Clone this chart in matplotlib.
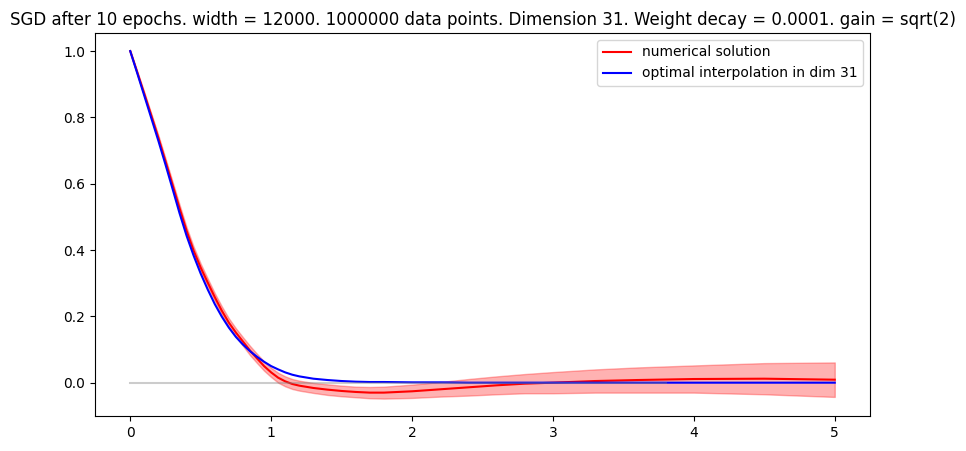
import numpy as np
import matplotlib
matplotlib.use("Agg")
import matplotlib.pyplot as plt

# values
x_vals = [0.0, 0.05, 0.1, 0.15, 0.2, 0.25, 0.3, 0.35, 0.4, 0.45, 0.5, 0.55, 0.6, 0.65,
          0.7, 0.75, 0.8, 0.85, 0.9, 0.95, 1.0, 1.05, 1.1, 1.15, 1.2, 1.3, 1.4, 1.5, 1.6,
          1.7, 1.8, 2.0, 2.2, 2.4, 2.6, 2.8, 3.0, 3.3, 3.6, 4.0, 4.5, 5.0]

optimal = [1.0, 0.933, 0.865, 0.797, 0.729, 0.658, 0.585, 0.511, 0.443, 0.383, 0.329,
           0.281, 0.237, 0.199, 0.166, 0.138, 0.115, 0.095, 0.078, 0.063, 0.05, 0.04,
           0.031, 0.024, 0.019, 0.012, 0.008, 0.005, 0.003, 0.002, 0.002, 0.001, 0.001,
           0.0, 0.0, 0.0, 0.0, 0.0, 0.0, 0.0, 0.0, 0.0]

numerical = [1.0, 0.936, 0.871, 0.805, 0.738, 0.668, 0.597, 0.526, 0.458, 0.398, 0.347,
             0.302, 0.258, 0.217, 0.181, 0.151, 0.124, 0.097, 0.073, 0.05, 0.031, 0.015,
             0.004, -0.004, -0.009, -0.016, -0.021, -0.025, -0.028, -0.03, -0.03, -0.026,
             -0.02, -0.014, -0.008, -0.003, 0.0, 0.005, 0.008, 0.011, 0.012, 0.009]

spread = [0.002, 0.003, 0.005, 0.006, 0.008, 0.009, 0.01, 0.011, 0.011, 0.012, 0.012,
          0.012, 0.012, 0.013, 0.013, 0.013, 0.013, 0.014, 0.014, 0.014, 0.014, 0.015,
          0.015, 0.015, 0.015, 0.015, 0.016, 0.016, 0.016, 0.017, 0.018, 0.02, 0.022,
          0.025, 0.027, 0.029, 0.032, 0.035, 0.038, 0.041, 0.047, 0.052]

zero_line_x = [0.0, 3.8]
zero_line_y = [0.0, 0.0]

title = ("SGD after 10 epochs. width = 12000. 1000000 data points. Dimension 31. "
         "Weight decay = 0.0001. gain = sqrt(2)")

x = np.array(x_vals)
num = np.array(numerical)
sd = np.array(spread)

fig = plt.figure(figsize=(9.66, 4.51), dpi=100)
ax = fig.add_axes([95 / 966, 1 - 416 / 451, 775 / 966, 383 / 451])

ax.fill_between(x, num - sd, num + sd, color="red", alpha=0.3)
ax.plot(x, num, color="red", label="numerical solution")
ax.plot(x, optimal, color="blue", label="optimal interpolation in dim 31")
ax.plot(zero_line_x, zero_line_y, color="gray", alpha=0.4)

ax.set_title(title)
ax.legend(loc="upper right")

fig.savefig("out.png", dpi=100)
